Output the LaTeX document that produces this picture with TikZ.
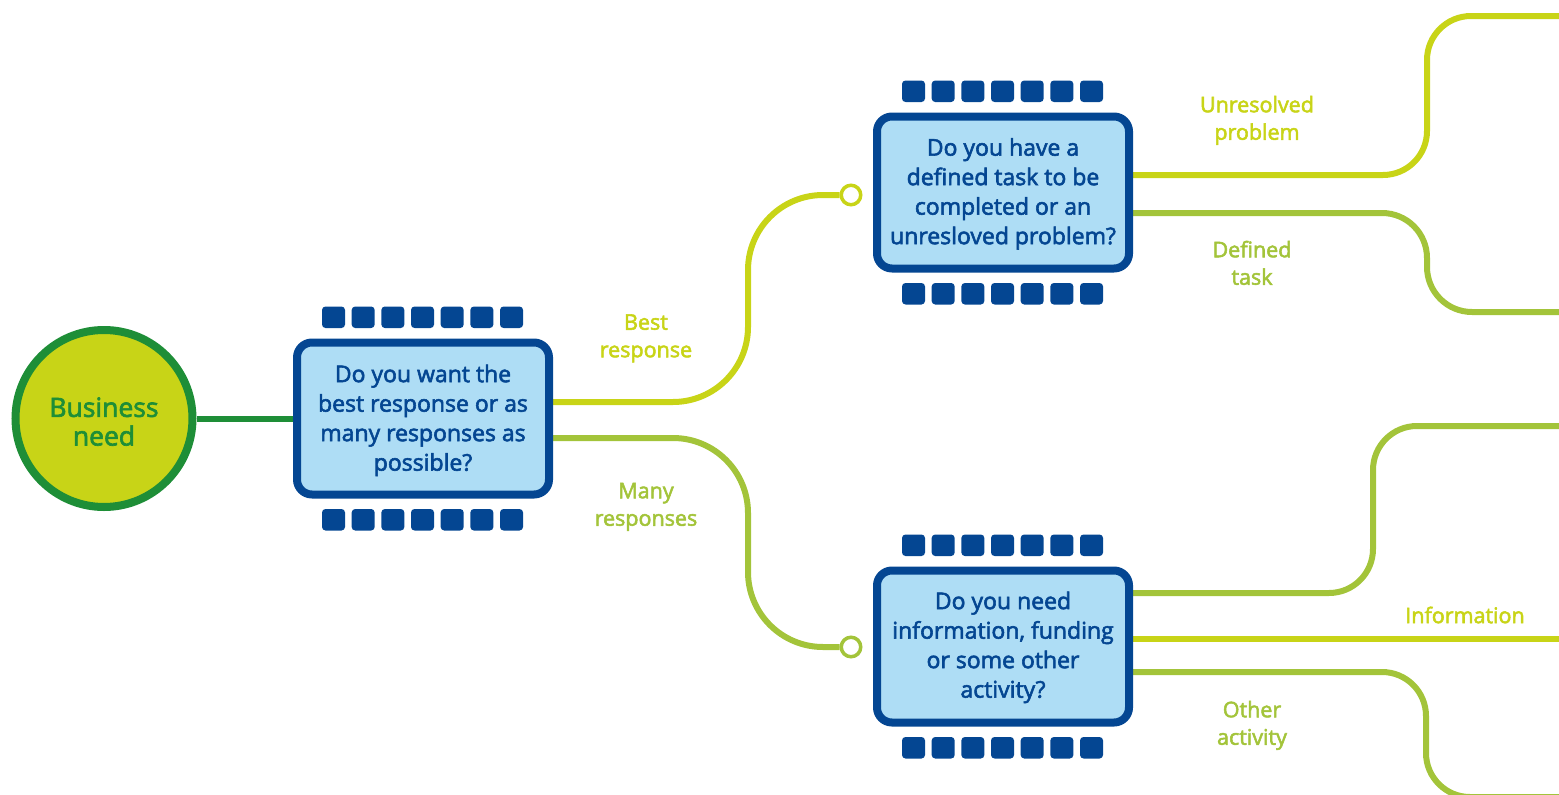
\documentclass[tikz,border=0pt]{standalone}
\usepackage{fontspec}
\setmainfont{Open Sans}
\newfontfamily\medfont{Open Sans}[FakeBold=2.5]
\definecolor{qblue}{RGB}{4,70,146}
\definecolor{qlight}{RGB}{174,221,245}
\definecolor{ylw}{RGB}{200,212,23}
\definecolor{lgreen}{RGB}{163,196,58}
\definecolor{dgreen}{RGB}{30,142,55}
\newcommand\qtext[2]{\raisebox{#1}[\height][\depth]{\begin{tabular}{@{}c@{}}#2\end{tabular}}}
\pgfdeclarelayer{bg}
\pgfsetlayers{bg,main}
\tikzset{
  qbox/.style={draw=qblue, line width=8pt, fill=qlight, rounded corners=15pt,
    minimum width=252pt, minimum height=152pt, inner sep=0pt, text=qblue,
    font=\medfont\fontsize{23}{29.5}\selectfont},
  pinbox/.style={fill=qblue, rounded corners=3.5pt},
  ylwline/.style={draw=ylw, line width=6pt},
  grnline/.style={draw=lgreen, line width=6pt},
  ring/.style={circle, draw=#1, line width=3.5pt, fill=white, minimum size=19.5pt, inner sep=0pt},
  lbl/.style={text=#1, inner sep=0pt, font=\medfont\fontsize{21.5}{27.5}\selectfont},
}
\begin{document}
\begin{tikzpicture}[x=1pt, y=-1pt]
\useasboundingbox (0,0) rectangle (1559,795);
\clip (0,0) rectangle (1559,795);

% nodes
\node[circle, draw=dgreen, line width=8pt, fill=ylw, minimum size=177pt, inner sep=0pt,
      text=dgreen, font=\medfont\fontsize{26.5}{28.5}\selectfont] (bn) at (104,418.5) {\qtext{-7pt}{Business\\need}};
\node[qbox] (q1) at (423,418.5) {\qtext{-2pt}{Do you want the\\best response or as\\many responses as\\possible?}};
\node[qbox] (q2) at (1003,192.5) {\qtext{-1.5pt}{Do you have a\\defined task to be\\completed or an\\unresloved problem?}};
\node[qbox] (q3) at (1003,646.5) {\qtext{-1pt}{Do you need\\information, funding\\or some other\\activity?}};

\foreach \q in {q1,q2,q3}{
  \foreach \k in {0,...,6}{
    \fill[pinbox] ([xshift={(-101+\k*29.67)*1pt}, yshift=10.5pt]\q.north) rectangle ++(23,-21.5);
    \fill[pinbox] ([xshift={(-101+\k*29.67)*1pt}, yshift=-10.5pt]\q.south) rectangle ++(23,21.5);
  }
}

\node[ring=ylw] (c1) at (851,195) {};
\node[ring=lgreen] (c2) at (851,647) {};

\coordinate (o1) at (1575,16);
\coordinate (o2) at (1575,312);
\coordinate (o3) at (1575,426);
\coordinate (o4) at (1575,639);
\coordinate (o5) at (1575,797);

% labels
\node[lbl=ylw] (l1) at (646,336) {\qtext{-2pt}{Best\\response}};
\node[lbl=lgreen] (l2) at (646,504.5) {\qtext{-2pt}{Many\\responses}};
\node[lbl=ylw] (l3) at (1257,117.5) {\qtext{-3pt}{Unresolved\\problem}};
\node[lbl=lgreen] (l4) at (1252,262.5) {\qtext{-3pt}{Defined\\task}};
\node[lbl=ylw] (l5) at (1465,615) {Information};
\node[lbl=lgreen] (l6) at (1252,722.5) {\qtext{-3pt}{Other\\activity}};

\begin{pgfonlayer}{bg}
  \draw[dgreen, line width=6pt] (bn.east) -- (q1.west);
  \draw[ylwline, rounded corners=75pt] ([yshift=16.5pt]q1.east) -- ++(195,0) |- (c1);
  \draw[grnline, rounded corners=75pt] ([yshift=-19.5pt]q1.east) -- ++(195,0) |- (c2);
  \draw[ylwline, rounded corners=44pt] ([yshift=17.5pt]q2.east) -- ++(294,0) |- (o1);
  \draw[grnline, rounded corners=45pt] ([yshift=-20.5pt]q2.east) -- ++(294,0) |- (o2);
  \draw[grnline, rounded corners=44pt] ([yshift=53.5pt]q3.east) -- ++(240,0) |- (o3);
  \draw[ylwline] ([yshift=7.5pt]q3.east) -- (o4);
  \draw[grnline, rounded corners=44pt] ([yshift=-25.5pt]q3.east) -- ++(293,0) |- (o5);
\end{pgfonlayer}
\end{tikzpicture}
\end{document}
